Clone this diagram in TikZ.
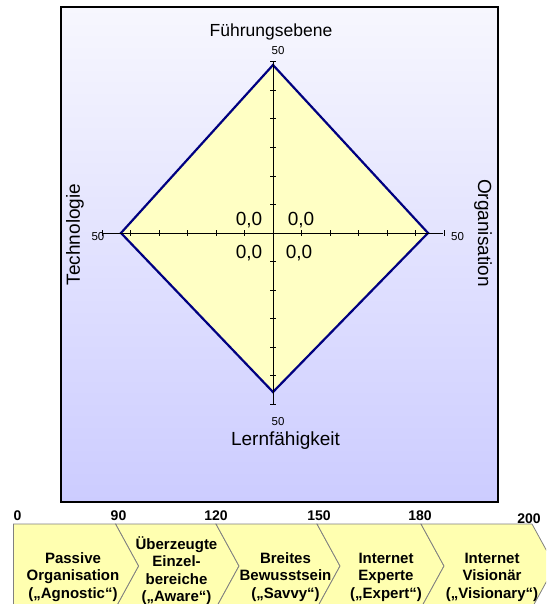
\documentclass[tikz,border=0pt]{standalone}
\usepackage{fontspec}
\setmainfont{Liberation Sans}
\definecolor{frametop}{RGB}{247,247,254}
\definecolor{framebot}{RGB}{204,204,255}
\definecolor{diafill}{RGB}{255,255,196}
\definecolor{dialine}{RGB}{0,0,128}
\definecolor{chevfill}{RGB}{255,255,176}
\definecolor{chevline}{RGB}{128,128,128}
\begin{document}
\begin{tikzpicture}[x=1pt,y=-1pt,
  title/.style={font=\fontsize{19}{22}\selectfont, inner sep=0pt},
  small/.style={font=\fontsize{11.5}{13}\selectfont, inner sep=0pt},
  val/.style={font=\fontsize{19}{21}\selectfont, inner sep=0pt},
  num/.style={font=\bfseries\fontsize{14}{16}\selectfont, inner sep=0pt},
  stage/.style={font=\bfseries\fontsize{15}{17.5}\selectfont, align=center, inner sep=0pt},
  chev/.style={fill=chevfill, draw=chevline, line width=0.8pt, line join=miter},
  axisline/.style={black, line width=0.8pt},
  tickmark/.style={black, line width=1pt},
  frame/.style={draw=black, line width=1.3pt, top color=frametop, bottom color=framebot, minimum width=437pt, minimum height=495pt, inner sep=0pt}]
\useasboundingbox (0,0) rectangle (546,604);
\clip (0,0) rectangle (546,604);

% frame
\node[frame] (frame) at (279.5,254.5) {};

% diamond
\coordinate (c) at (273,233);
\coordinate (T) at (273,65);
\coordinate (R) at (428,233);
\coordinate (B) at (273,392);
\coordinate (L) at (121,233);
\filldraw[fill=diafill, draw=dialine, line width=2.2pt, line join=miter] (T) -- (R) -- (B) -- (L) -- cycle;

% axes
\coordinate (axT) at (273,62);
\coordinate (axB) at (273,404);
\coordinate (axL) at (102,233);
\coordinate (axR) at (443,233);
\draw[axisline] (axT) -- (axB);
\draw[axisline] (axL) -- (axR);
\foreach \k in {-6,...,-1,1,2,...,6} {
  \draw[tickmark] ({270},{233+28.5*\k}) -- ++(6,0);
  \draw[tickmark] ({273+28.5*\k},{230}) -- ++(0,6);
}

% axis titles
\node[title, anchor=base, font=\fontsize{17.5}{20}\selectfont] (fe) at (271,36.5) {Führungsebene};
\node[title, anchor=base] (lf) at (285.5,445.5) {Lernfähigkeit};
\node[title, rotate=90] (tech) at (75,234.5) {Technologie};
\node[title, rotate=-90] (org) at (483,233) {Organisation};

% scale labels
\node[small, anchor=base] (s1) at (278,55) {50};
\node[small, anchor=base] (s2) at (278,425.5) {50};
\node[small, anchor=base] (s3) at (98,240.5) {50};
\node[small, anchor=base] (s4) at (457.5,240.5) {50};

% values
\node[val, anchor=base] (v1) at (249,225.5) {0,0};
\node[val, anchor=base] (v2) at (301,225.5) {0,0};
\node[val, anchor=base] (v3) at (249,258) {0,0};
\node[val, anchor=base] (v4) at (299,258) {0,0};

% chevrons
\foreach \l/\r in {115.5/216, 216/317, 317/421, 421/532} {
  \filldraw[chev] (\l,524) -- (\r,524) -- (\r+23,566) -- (\r,608) -- (\l,608) -- (\l+23,566) -- cycle;
}
\filldraw[chev] (13.5,524) -- (115.5,524) -- (138.5,566) -- (115.5,608) -- (13.5,608) -- cycle;

% scale numbers
\node[num, anchor=base] (n0) at (17.5,520.5) {0};
\node[num, anchor=base] (n1) at (118.5,520.5) {90};
\node[num, anchor=base] (n2) at (216,520.5) {120};
\node[num, anchor=base] (n3) at (319,520.5) {150};
\node[num, anchor=base] (n4) at (420,520.5) {180};
\node[num, anchor=base] (n5) at (529,523.5) {200};

% stage texts (base = baseline of last line)
\node[stage, anchor=base] (t1) at (73,598) {Passive\\Organisation\\(„Agnostic“)};
\node[stage, anchor=base] (t2) at (176.5,601.5) {Überzeugte\\Einzel-\\bereiche\\(„Aware“)};
\node[stage, anchor=base] (t3) at (285.5,598) {Breites\\Bewusstsein\\(„Savvy“)};
\node[stage, anchor=base] (t4) at (386,598) {Internet\\Experte\\(„Expert“)};
\node[stage, anchor=base] (t5) at (492,598) {Internet\\Visionär\\(„Visionary“)};
\end{tikzpicture}
\end{document}
